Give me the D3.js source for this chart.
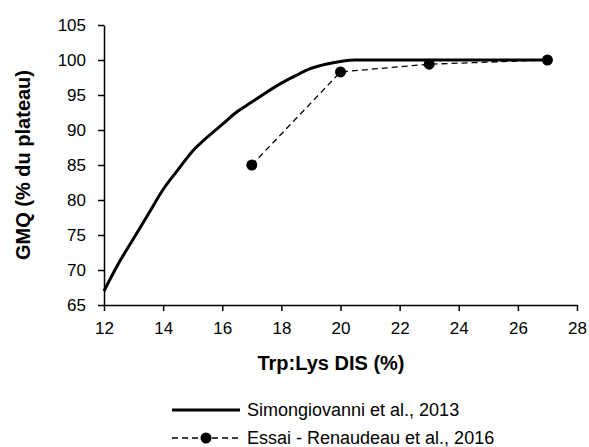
<!DOCTYPE html>
<html><head><meta charset="utf-8">
<script src="https://cdn.jsdelivr.net/npm/d3@7"></script>
<style>body{margin:0;background:#fff}text{font-family:"Liberation Sans",sans-serif;fill:#000}</style>
</head><body><svg id="c" width="589" height="447"></svg>
<script>
const xTicks=[12,14,16,18,20,22,24,26,28];
const yTicks=[65,70,75,80,85,90,95,100,105];
const simX=[12,12.5,13,13.5,14,14.5,15,15.5,16,16.5,17,17.5,18,18.5,19,19.5,20,20.5,27];
const simY=[67,71,74.5,78,81.5,84.3,87,89,90.8,92.6,94,95.4,96.7,97.8,98.8,99.4,99.8,100,100];
const essX=[17,20,23,27];
const essY=[85,98.3,99.4,100];
const labels=["Simongiovanni et al., 2013","Essai - Renaudeau et al., 2016"];
const svg=d3.select("#c");
const x=d3.scaleLinear().domain([12,28]).range([104,577]);
const y=d3.scaleLinear().domain([65,105]).range([305,25]);
svg.append("g").attr("transform","translate(0,305)").call(d3.axisBottom(x).tickValues(xTicks).tickSize(6).tickSizeOuter(0)).call(g=>{g.selectAll("text").attr("font-size",17).attr("y",13).attr("dy","0.95em");g.selectAll("path,line").attr("stroke","#000").attr("stroke-width",1.5)});
svg.append("g").attr("transform","translate(104,0)").call(d3.axisLeft(y).tickValues(yTicks).tickSize(6).tickSizeOuter(0)).call(g=>{g.selectAll("text").attr("font-size",17).attr("x",-18);g.selectAll("path,line").attr("stroke","#000").attr("stroke-width",1.5)});
const line=d3.line().x(d=>x(d[0])).y(d=>y(d[1])).curve(d3.curveMonotoneX);
svg.append("path").datum(simX.map((v,i)=>[v,simY[i]])).attr("d",line).attr("fill","none").attr("stroke","#000").attr("stroke-width",3);
const l2=d3.line().x(d=>x(d[0])).y(d=>y(d[1]));
svg.append("path").datum(essX.map((v,i)=>[v,essY[i]])).attr("d",l2).attr("fill","none").attr("stroke","#000").attr("stroke-width",1.3).attr("stroke-dasharray","6,4");
svg.selectAll("circle.e").data(essX).join("circle").attr("cx",d=>x(d)).attr("cy",(d,i)=>y(essY[i])).attr("r",5.5).attr("fill","#000");
svg.append("text").attr("x",331).attr("y",370).attr("text-anchor","middle").attr("font-size",20).attr("font-weight","bold").text("Trp:Lys DIS (%)");
svg.append("text").attr("transform","translate(30,165) rotate(-90)").attr("text-anchor","middle").attr("font-size",20).attr("font-weight","bold").text("GMQ (% du plateau)");
svg.append("line").attr("x1",172).attr("x2",240).attr("y1",410).attr("y2",410).attr("stroke","#000").attr("stroke-width",3);
svg.append("text").attr("x",247).attr("y",416).attr("font-size",18).text(labels[0]);
svg.append("line").attr("x1",172).attr("x2",240).attr("y1",438).attr("y2",438).attr("stroke","#000").attr("stroke-width",1.3).attr("stroke-dasharray","6,4");
svg.append("circle").attr("cx",206).attr("cy",438).attr("r",5.5);
svg.append("text").attr("x",247).attr("y",444).attr("font-size",18).text(labels[1]);
</script></body></html>
